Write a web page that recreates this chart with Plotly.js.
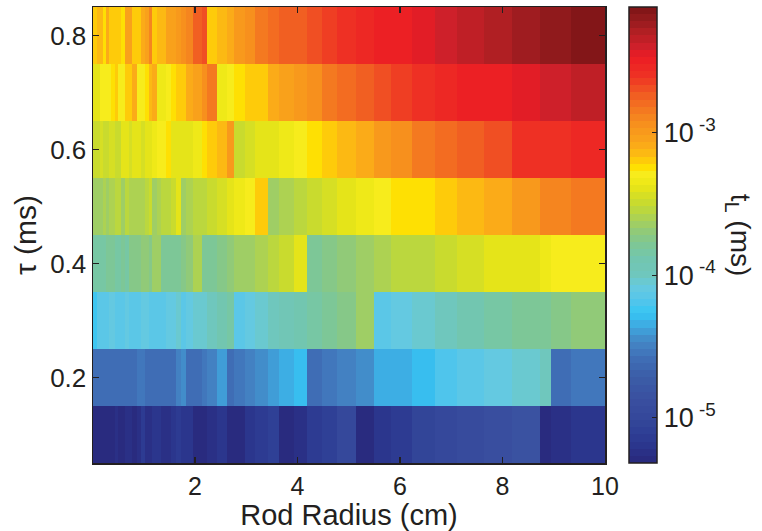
<!DOCTYPE html>
<html><head><meta charset="utf-8">
<script src="https://cdn.plot.ly/plotly-3.0.1.min.js"></script>
<style>html,body{margin:0;padding:0;background:#fff;}#chart{width:762px;height:531px;}</style>
</head><body><div id="chart"></div>
<script>
// Rod radius cell edges (cm)
const radiusEdges = [
  0.01,0.08,0.14,0.20,0.26,0.32,0.37,0.43,0.49,0.55,
  0.63,0.71,0.78,0.86,0.94,1.02,1.10,1.17,1.25,1.33,
  1.43,1.53,1.62,1.72,1.82,1.97,2.13,2.23,2.42,2.62,
  2.77,2.97,3.18,3.42,3.63,3.93,4.18,4.47,4.78,5.14,
  5.49,5.82,6.23,6.68,7.12,7.63,8.18,8.73,8.94,9.33,
  10.0
];
// tau (ms) rows
const tau = [0.1,0.2,0.3,0.4,0.5,0.6,0.7,0.8];

// log10 of t_L (ms), one array per tau row
const logTL_tau01 = [
  -5.29,-5.29,-5.29,-5.29,-5.29,-5.29,-5.29,-5.25,-5.29,-5.29,
  -5.22,-5.22,-5.27,-5.25,-5.16,-5.25,-5.25,-5.17,-5.17,-5.22,
  -5.22,-5.21,-5.16,-5.19,-5.19,-5.30,-5.29,-5.24,-5.17,-5.32,
  -5.32,-5.21,-5.14,-5.09,-5.32,-5.22,-5.16,-5.09,-5.00,-5.32,
  -5.21,-5.13,-5.03,-5.00,-4.93,-4.90,-4.84,-5.32,-5.22,-5.17
];
const logTL_tau02 = [
  -4.59,-4.59,-4.61,-4.61,-4.61,-4.61,-4.61,-4.58,-4.58,-4.60,
  -4.59,-4.59,-4.57,-4.55,-4.55,-4.60,-4.60,-4.58,-4.58,-4.61,
  -4.57,-4.57,-4.48,-4.45,-4.60,-4.57,-4.52,-4.47,-4.37,-4.60,
  -4.55,-4.49,-4.43,-4.37,-4.32,-4.27,-4.60,-4.55,-4.49,-4.42,
  -4.36,-4.32,-4.27,-4.20,-4.12,-4.07,-4.04,-3.99,-4.59,-4.53
];
const logTL_tau03 = [
  -4.23,-4.15,-4.13,-4.12,-4.12,-4.10,-4.10,-4.13,-4.12,-4.12,
  -4.10,-4.15,-4.15,-4.13,-4.07,-4.09,-4.12,-4.13,-4.15,-4.13,
  -4.07,-4.07,-4.04,-4.13,-4.09,-4.05,-4.02,-3.99,-3.91,-3.85,
  -4.12,-4.07,-4.04,-3.99,-3.94,-3.89,-3.83,-3.77,-3.72,-3.65,
  -4.12,-4.07,-4.02,-3.97,-3.91,-3.85,-3.81,-3.78,-3.75,-3.70
];
const logTL_tau04 = [
  -3.86,-3.86,-3.86,-3.86,-3.78,-3.78,-3.78,-3.85,-3.85,-3.77,
  -3.83,-3.75,-3.75,-3.75,-3.69,-3.69,-3.73,-3.65,-3.65,-3.80,
  -3.80,-3.78,-3.77,-3.72,-3.70,-3.61,-3.80,-3.78,-3.73,-3.69,
  -3.65,-3.62,-3.59,-3.54,-3.49,-3.41,-3.80,-3.75,-3.70,-3.65,
  -3.61,-3.56,-3.53,-3.49,-3.45,-3.40,-3.37,-3.32,-3.30,-3.27
];
const logTL_tau05 = [
  -3.62,-3.62,-3.62,-3.61,-3.62,-3.61,-3.59,-3.54,-3.56,-3.62,
  -3.56,-3.61,-3.61,-3.59,-3.57,-3.56,-3.51,-3.62,-3.57,-3.56,
  -3.53,-3.48,-3.40,-3.62,-3.57,-3.54,-3.53,-3.49,-3.43,-3.38,
  -3.33,-3.29,-3.20,-3.62,-3.57,-3.53,-3.48,-3.43,-3.40,-3.33,
  -3.29,-3.25,-3.22,-3.17,-3.13,-3.08,-2.97,-2.90,-2.90,-2.82
];
const logTL_tau06 = [
  -3.51,-3.51,-3.46,-3.48,-3.51,-3.43,-3.43,-3.49,-3.48,-3.40,
  -3.40,-3.45,-3.38,-3.38,-3.45,-3.40,-3.37,-3.32,-3.29,-3.29,
  -3.24,-3.40,-3.40,-3.40,-3.37,-3.32,-3.24,-3.19,-3.16,-3.01,
  -3.51,-3.46,-3.41,-3.37,-3.32,-3.27,-3.22,-3.17,-3.13,-3.08,
  -2.98,-2.92,-2.85,-2.79,-2.74,-2.68,-2.61,-2.58,-2.58,-2.52
];
const logTL_tau07 = [
  -3.38,-3.38,-3.29,-3.30,-3.29,-3.27,-3.22,-3.20,-3.29,-3.29,
  -3.19,-3.17,-3.11,-3.29,-3.29,-3.22,-3.16,-3.08,-3.33,-3.32,
  -3.29,-3.25,-3.20,-3.19,-3.11,-3.05,-2.95,-2.85,-3.32,-3.29,
  -3.25,-3.20,-3.17,-3.11,-3.06,-2.98,-2.92,-2.85,-2.79,-2.74,
  -2.69,-2.64,-2.58,-2.53,-2.50,-2.47,-2.44,-2.40,-2.40,-2.34
];
const logTL_tau08 = [
  -3.20,-3.16,-3.16,-3.22,-3.11,-3.20,-3.20,-3.17,-3.17,-3.24,
  -3.05,-3.05,-3.20,-3.20,-3.11,-3.05,-2.89,-3.19,-3.16,-3.14,
  -3.06,-3.05,-3.01,-2.95,-2.87,-2.74,-2.69,-3.20,-3.16,-3.09,
  -3.00,-2.93,-2.85,-2.81,-2.76,-2.72,-2.68,-2.63,-2.60,-2.55,
  -2.50,-2.47,-2.44,-2.40,-2.36,-2.29,-2.24,-2.20,-2.20,-2.12
];

// colour bar ticks
const cbTickVals = [-5, -4, -3];
const cbTickText = ['10<sup> -5</sup>', '10<sup> -4</sup>', '10<sup> -3</sup>'];
const xTickVals = [2, 4, 6, 8, 10];
const yTickVals = [0.2, 0.4, 0.6, 0.8];

// colour map (style): anchor colours, turned into a 64-level stepped map
const cmapStops = [0.0,0.036,0.066,0.095,0.139,0.19,0.226,0.255,0.277,0.299,0.328,0.358,0.387,0.412,0.445,0.474,0.504,0.533,0.562,0.584,0.606,0.635,0.65,0.672,0.701,0.737,0.774,0.81,0.847,0.891,0.912,0.942,0.971,1.0];
const cmapColors = ['#28287c','#2b358c','#2e3f95','#34479a','#3a4fa0','#3b5ea8','#3f6db5','#437fc1','#4290cc','#3fa8e0','#35c6f4','#56c5ea','#66cae0','#6fc7be','#72c6b0','#7cc79a','#8dc97c','#a8d05a','#c2d934','#d4de25','#e9e616','#f8ed1c','#ffde00','#fdc010','#faa61a','#f7941d','#f47920','#f15a22','#ee3224','#ec1c24','#d0202a','#b31f24','#951b1e','#7d1416'];
const nLevels = 64;

function hexToRgb(h) { return [1,3,5].map(i => parseInt(h.slice(i, i + 2), 16)); }
function sampleMap(t) {
  for (let i = 0; i < cmapStops.length - 1; i++) {
    if (t <= cmapStops[i + 1]) {
      const a = hexToRgb(cmapColors[i]), b = hexToRgb(cmapColors[i + 1]);
      const u = (t - cmapStops[i]) / (cmapStops[i + 1] - cmapStops[i]);
      const c = a.map((v, k) => Math.round(v + (b[k] - v) * u));
      return 'rgb(' + c.join(',') + ')';
    }
  }
  return cmapColors[cmapColors.length - 1];
}
const colorscale = [];
for (let i = 0; i < nLevels; i++) {
  const col = sampleMap((i + 0.5) / nLevels);
  colorscale.push([i / nLevels, col]);
  colorscale.push([(i + 1) / nLevels, col]);
}

const z = [logTL_tau01, logTL_tau02, logTL_tau03, logTL_tau04,
           logTL_tau05, logTL_tau06, logTL_tau07, logTL_tau08];

const font = 'Liberation Sans, Arial, Helvetica, sans-serif';
const ink = '#231f20';

const trace = {
  type: 'heatmap',
  x: radiusEdges,
  y: tau,
  z: z,
  zmin: -5.318,
  zmax: -2.116,
  zsmooth: false,
  colorscale: colorscale,
  hoverinfo: 'skip',
  colorbar: {
    x: 1.047, xanchor: 'left', xpad: 0,
    y: 0.5, yanchor: 'middle', ypad: 0,
    len: 1, lenmode: 'fraction',
    thickness: 28, thicknessmode: 'pixels',
    outlinewidth: 1.5, outlinecolor: ink,
    tickvals: cbTickVals, ticktext: cbTickText,
    ticks: 'inside', ticklen: 5, tickcolor: ink, tickwidth: 1.2,
    tickfont: {family: font, size: 27, color: ink},
    ticklabelstandoff: 2
  }
};

const layout = {
  width: 762, height: 531,
  margin: {l: 93, r: 157, t: 7, b: 68, pad: 0},
  paper_bgcolor: '#fff', plot_bgcolor: '#fff',
  font: {family: font, color: ink},
  xaxis: {
    range: [0.01, 10], autorange: false,
    tickvals: xTickVals, ticktext: xTickVals.map(String),
    ticks: 'inside', ticklen: 6, tickwidth: 1.5, tickcolor: ink,
    showline: true, mirror: 'ticks', linecolor: ink, linewidth: 1.5,
    showgrid: false, zeroline: false,
    tickfont: {family: font, size: 25, color: ink},
    title: {text: 'Rod Radius (cm)', font: {family: font, size: 29, color: ink}, standoff: 5}
  },
  yaxis: {
    range: [0.05, 0.85], autorange: false,
    tickvals: yTickVals, ticktext: yTickVals.map(v => v.toFixed(1)),
    ticks: 'inside', ticklen: 6, tickwidth: 1.5, tickcolor: ink,
    showline: true, mirror: 'ticks', linecolor: ink, linewidth: 1.5,
    showgrid: false, zeroline: false,
    tickfont: {family: font, size: 26, color: ink},
    title: {text: 'τ (ms)', font: {family: font, size: 30, color: ink}, standoff: 4}
  },
  annotations: [{
    text: 't<sub>L</sub> (ms)', textangle: 90,
    xref: 'paper', yref: 'paper', x: 1.262, y: 0.5,
    xanchor: 'center', yanchor: 'middle', showarrow: false,
    font: {family: font, size: 28, color: ink}
  }]
};

Plotly.newPlot('chart', [trace], layout, {displayModeBar: false, staticPlot: true});
</script>
</body></html>
